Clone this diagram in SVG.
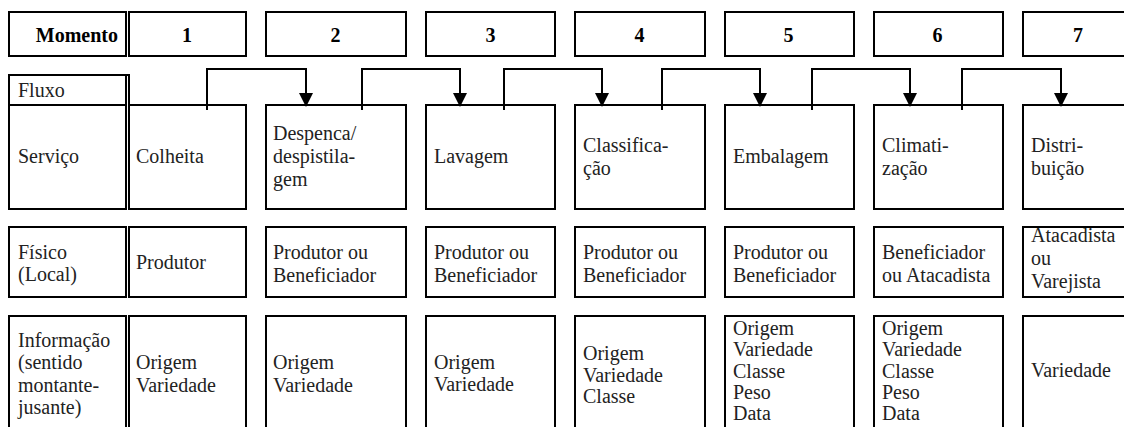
<svg xmlns="http://www.w3.org/2000/svg" width="1124" height="427" viewBox="0 0 1124 427">
<style>
.box { fill: #fff; stroke: #000; stroke-width: 2; }
.ln { fill: none; stroke: #000; stroke-width: 2; }
.t { font-family: 'Liberation Serif', 'DejaVu Serif', serif; font-size: 20px; fill: #222; }
.b { font-weight: bold; fill: #000; text-anchor: middle; }
.conn { fill: none; stroke: #000; stroke-width: 2; }
</style>
<defs>
<marker id="ah" markerUnits="userSpaceOnUse" markerWidth="14" markerHeight="14" refX="13" refY="7" orient="auto">
<path d="M0,0 L14,7 L0,14 z" fill="#000"/>
</marker>
</defs>
<g class="t" font-family="Liberation Serif">

<!-- header row -->
<g id="h-momento"><rect class="box" x="9" y="12" width="117" height="44"/><text class="b" x="118" y="42" style="text-anchor:end">Momento</text></g>
<g id="h-1"><rect class="box" x="129" y="12" width="117" height="44"/><text class="b" x="187" y="42">1</text></g>
<g id="h-2"><rect class="box" x="266" y="12" width="140" height="44"/><text class="b" x="335.5" y="42">2</text></g>
<g id="h-3"><rect class="box" x="426" y="12" width="129" height="44"/><text class="b" x="490.5" y="42">3</text></g>
<g id="h-4"><rect class="box" x="575" y="12" width="130" height="44"/><text class="b" x="639.5" y="42">4</text></g>
<g id="h-5"><rect class="box" x="725" y="12" width="129" height="44"/><text class="b" x="788.5" y="42">5</text></g>
<g id="h-6"><rect class="box" x="874" y="12" width="129" height="44"/><text class="b" x="937.5" y="42">6</text></g>
<g id="h-7"><rect class="box" x="1023" y="12" width="129" height="44"/><text class="b" x="1078" y="42">7</text></g>

<!-- left labels -->
<g id="l-fluxo"><rect class="box" x="9" y="75" width="117" height="30"/><line class="ln" x1="126" y1="75" x2="130" y2="75"/><line class="ln" x1="129" y1="74" x2="129" y2="106"/><text x="18" y="97">Fluxo</text></g>
<g id="l-servico"><rect class="box" x="9" y="105" width="117" height="104"/><text x="18" y="163">Serviço</text></g>
<g id="l-fisico"><rect class="box" x="9" y="227" width="117" height="70"/><text x="18" y="258.5">Físico</text><text x="18" y="281">(Local)</text></g>
<g id="l-info"><rect class="box" x="9" y="316" width="117" height="124"/><text x="18" y="346.5">Informação</text><text x="18" y="369">(sentido</text><text x="18" y="391.5">montante-</text><text x="18" y="414">jusante)</text></g>

<!-- service row -->
<g id="s-1"><rect class="box" x="129" y="105" width="117" height="104"/><text x="136" y="163">Colheita</text></g>
<g id="s-2"><rect class="box" x="266" y="105" width="140" height="104"/><text x="273" y="139.5">Despenca/</text><text x="273" y="162.5">despistila-</text><text x="273" y="185.5">gem</text></g>
<g id="s-3"><rect class="box" x="426" y="105" width="129" height="104"/><text x="434" y="163">Lavagem</text></g>
<g id="s-4"><rect class="box" x="575" y="105" width="130" height="104"/><text x="583" y="152">Classifica-</text><text x="583" y="175">ção</text></g>
<g id="s-5"><rect class="box" x="725" y="105" width="129" height="104"/><text x="733" y="163">Embalagem</text></g>
<g id="s-6"><rect class="box" x="874" y="105" width="129" height="104"/><text x="882" y="152">Climati-</text><text x="882" y="175">zação</text></g>
<g id="s-7"><rect class="box" x="1023" y="105" width="129" height="104"/><text x="1031" y="152">Distri-</text><text x="1031" y="175">buição</text></g>

<!-- physical row -->
<g id="f-1"><rect class="box" x="129" y="227" width="117" height="70"/><text x="136" y="269">Produtor</text></g>
<g id="f-2"><rect class="box" x="266" y="227" width="140" height="70"/><text x="273" y="258.5">Produtor ou</text><text x="273" y="281.5">Beneficiador</text></g>
<g id="f-3"><rect class="box" x="426" y="227" width="129" height="70"/><text x="434" y="258.5">Produtor ou</text><text x="434" y="281.5">Beneficiador</text></g>
<g id="f-4"><rect class="box" x="575" y="227" width="130" height="70"/><text x="583" y="258.5">Produtor ou</text><text x="583" y="281.5">Beneficiador</text></g>
<g id="f-5"><rect class="box" x="725" y="227" width="129" height="70"/><text x="733" y="258.5">Produtor ou</text><text x="733" y="281.5">Beneficiador</text></g>
<g id="f-6"><rect class="box" x="874" y="227" width="129" height="70"/><text x="882" y="258.5">Beneficiador</text><text x="882" y="281.5">ou Atacadista</text></g>
<g id="f-7"><rect class="box" x="1023" y="227" width="129" height="70"/><text x="1031" y="242">Atacadista</text><text x="1031" y="265">ou</text><text x="1031" y="288">Varejista</text></g>

<!-- information row -->
<g id="i-1"><rect class="box" x="129" y="316" width="117" height="124"/><text x="136" y="369">Origem</text><text x="136" y="391.5">Variedade</text></g>
<g id="i-2"><rect class="box" x="266" y="316" width="140" height="124"/><text x="273" y="369">Origem</text><text x="273" y="391.5">Variedade</text></g>
<g id="i-3"><rect class="box" x="426" y="316" width="129" height="124"/><text x="434" y="368.5">Origem</text><text x="434" y="391">Variedade</text></g>
<g id="i-4"><rect class="box" x="575" y="316" width="130" height="124"/><text x="583" y="360">Origem</text><text x="583" y="381.5">Variedade</text><text x="583" y="403">Classe</text></g>
<g id="i-5"><rect class="box" x="725" y="316" width="129" height="124"/><text x="733" y="335">Origem</text><text x="733" y="356.3">Variedade</text><text x="733" y="377.6">Classe</text><text x="733" y="398.9">Peso</text><text x="733" y="420.2">Data</text></g>
<g id="i-6"><rect class="box" x="874" y="316" width="129" height="124"/><text x="882" y="335">Origem</text><text x="882" y="356.3">Variedade</text><text x="882" y="377.6">Classe</text><text x="882" y="398.9">Peso</text><text x="882" y="420.2">Data</text></g>
<g id="i-7"><rect class="box" x="1023" y="316" width="129" height="124"/><text x="1031" y="377">Variedade</text></g>
</g>

<!-- connectors -->
<g id="connectors">
<path class="conn" d="M207,110 V69 H306 V106" marker-end="url(#ah)"/>
<path class="conn" d="M362,110 V69 H460 V106" marker-end="url(#ah)"/>
<path class="conn" d="M504,110 V69 H602 V106" marker-end="url(#ah)"/>
<path class="conn" d="M662,110 V69 H760 V106" marker-end="url(#ah)"/>
<path class="conn" d="M812,110 V69 H910 V106" marker-end="url(#ah)"/>
<path class="conn" d="M962,110 V69 H1061 V106" marker-end="url(#ah)"/>
</g>
</svg>
